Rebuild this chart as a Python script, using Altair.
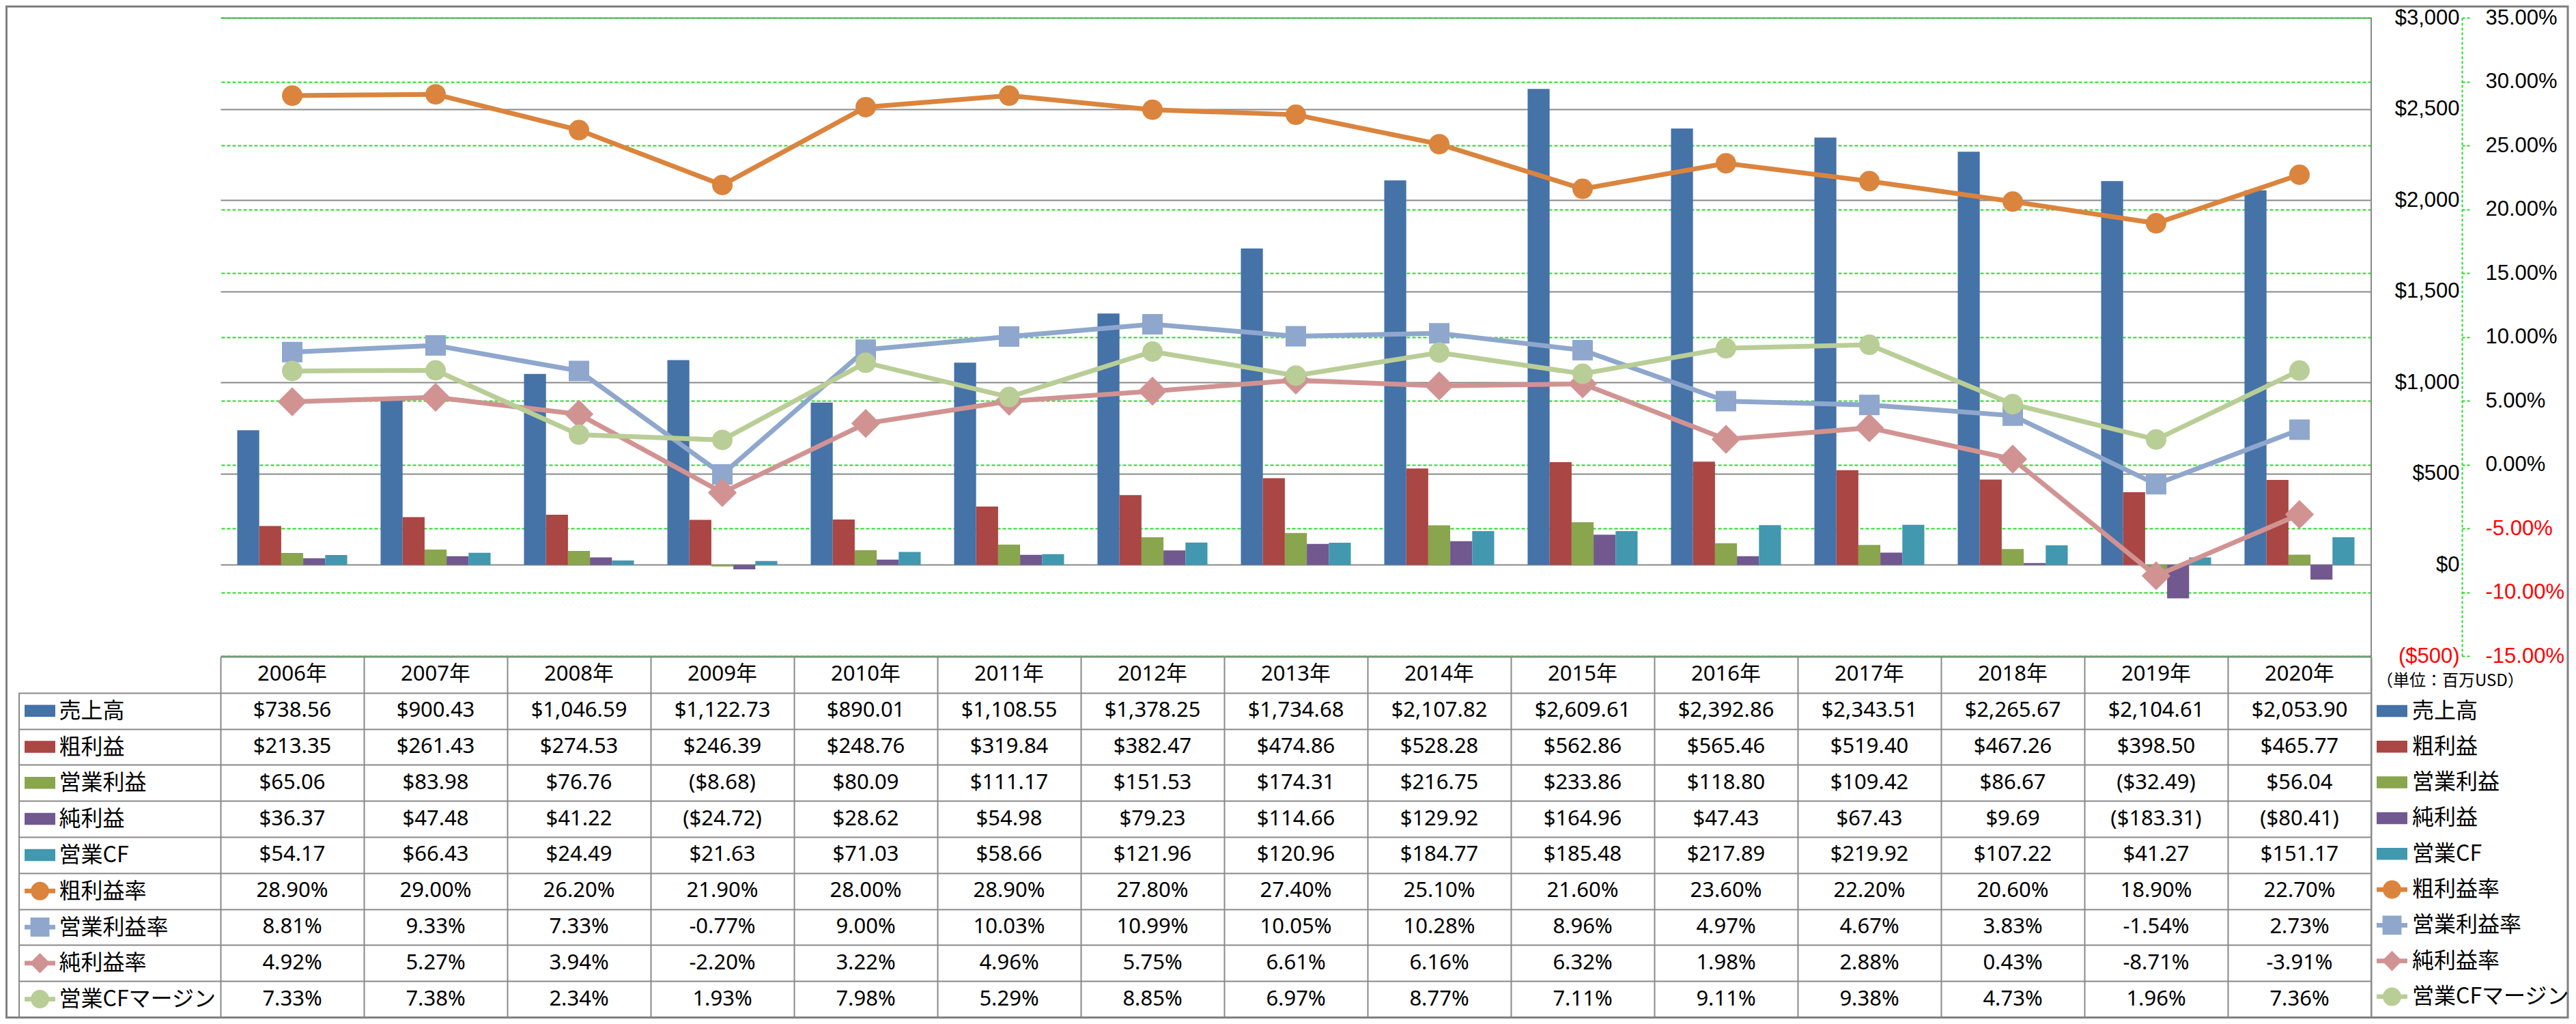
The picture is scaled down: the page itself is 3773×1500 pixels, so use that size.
import altair as alt
import pandas as pd

# ---------------- data ----------------
years = ["2006年", "2007年", "2008年", "2009年", "2010年", "2011年", "2012年", "2013年",
         "2014年", "2015年", "2016年", "2017年", "2018年", "2019年", "2020年"]

bar_series = ["売上高", "粗利益", "営業利益", "純利益", "営業CF"]
line_series = ["粗利益率", "営業利益率", "純利益率", "営業CFマージン"]

sales = [738.56, 900.43, 1046.59, 1122.73, 890.01, 1108.55, 1378.25, 1734.68,
         2107.82, 2609.61, 2392.86, 2343.51, 2265.67, 2104.61, 2053.90]
gross = [213.35, 261.43, 274.53, 246.39, 248.76, 319.84, 382.47, 474.86,
         528.28, 562.86, 565.46, 519.40, 467.26, 398.50, 465.77]
op_inc = [65.06, 83.98, 76.76, -8.68, 80.09, 111.17, 151.53, 174.31,
          216.75, 233.86, 118.80, 109.42, 86.67, -32.49, 56.04]
net_inc = [36.37, 47.48, 41.22, -24.72, 28.62, 54.98, 79.23, 114.66,
           129.92, 164.96, 47.43, 67.43, 9.69, -183.31, -80.41]
op_cf = [54.17, 66.43, 24.49, 21.63, 71.03, 58.66, 121.96, 120.96,
         184.77, 185.48, 217.89, 219.92, 107.22, 41.27, 151.17]

gross_margin = [28.90, 29.00, 26.20, 21.90, 28.00, 28.90, 27.80, 27.40,
                25.10, 21.60, 23.60, 22.20, 20.60, 18.90, 22.70]
op_margin = [8.81, 9.33, 7.33, -0.77, 9.00, 10.03, 10.99, 10.05,
             10.28, 8.96, 4.97, 4.67, 3.83, -1.54, 2.73]
net_margin = [4.92, 5.27, 3.94, -2.20, 3.22, 4.96, 5.75, 6.61,
              6.16, 6.32, 1.98, 2.88, 0.43, -8.71, -3.91]
cf_margin = [7.33, 7.38, 2.34, 1.93, 7.98, 5.29, 8.85, 6.97,
             8.77, 7.11, 9.11, 9.38, 4.73, 1.96, 7.36]

bar_values = [sales, gross, op_inc, net_inc, op_cf]
line_values = [gross_margin, op_margin, net_margin, cf_margin]

usd_ticks = [-500, 0, 500, 1000, 1500, 2000, 2500, 3000]
pct_ticks = [-0.15, -0.10, -0.05, 0.0, 0.05, 0.10, 0.15, 0.20, 0.25, 0.30, 0.35]
unit_label = "（単位：百万USD）"

# ---------------- styles ----------------
bar_colors = ["#4572A7", "#AA4643", "#89A54E", "#71588F", "#4198AF"]
line_colors = ["#DB843D", "#8FA7CD", "#D19392", "#B9CD96"]
line_shapes = ["circle", "square", "diamond", "circle"]
line_sizes = [900, 900, 1800, 900]

bar_sym = "M-1,-0.39L1,-0.39L1,0.39L-1,0.39Z"
stem = "M-1,-0.15L1,-0.15L1,0.15L-1,0.15Z"
circ = "M0.6,0A0.6,0.6,0,1,1,-0.6,0A0.6,0.6,0,1,1,0.6,0Z"
sq = "M-0.62,-0.62L0.62,-0.62L0.62,0.62L-0.62,0.62Z"
dia = "M0,-0.66L0.66,0L0,0.66L-0.66,0Z"
sym_paths = [bar_sym] * 5 + [stem + circ, stem + sq, stem + dia, stem + circ]

GRID = "#898989"
GREEN = "#22DD22"
LATIN = "Noto Sans, Noto Sans CJK JP"
AXISFONT = "Liberation Sans"
CJK = "Noto Sans CJK JP"

W = 3150
TOP = 18           # plot top inside the chart
PLOT_H = 1464
MAIN_H = 935
TABLE_TOP = 936

header_key = "年度"
rows = [header_key] + bar_series + line_series
all_series = bar_series + line_series
ROW_H = (PLOT_H - TABLE_TOP) / 10.0


def fmt_usd(v):
    s = "$" + format(abs(v), ",.2f")
    return "(" + s + ")" if v < 0 else s


bars_df = pd.DataFrame([
    {"year": y, "series": s, "value": v}
    for s, vals in zip(bar_series, bar_values) for y, v in zip(years, vals)
])
lines_df = pd.DataFrame([
    {"year": y, "series": s, "value": v / 100.0}
    for s, vals in zip(line_series, line_values) for y, v in zip(years, vals)
])
table_records = [{"year": y, "row": header_key, "text": y} for y in years]
for s, vals in zip(bar_series, bar_values):
    table_records += [{"year": y, "row": s, "text": fmt_usd(v)} for y, v in zip(years, vals)]
for s, vals in zip(line_series, line_values):
    table_records += [{"year": y, "row": s, "text": f"{v:.2f}%"} for y, v in zip(years, vals)]
table_df = pd.DataFrame(table_records)
sym_df = pd.DataFrame({"row": all_series})
dummy = pd.DataFrame({"a": [0]})

# ---------------- scales / axes ----------------
x_scale = alt.Scale(type="band", domain=years, paddingInner=0, paddingOuter=0)
x_axis = alt.Axis(orient="bottom", offset=-(PLOT_H - TABLE_TOP), labels=False, title=None,
                  domain=True, domainColor=GRID, domainWidth=2,
                  ticks=True, tickSize=PLOT_H - TABLE_TOP, tickColor=GRID, tickWidth=2,
                  tickBand="extent", grid=False)

usd_scale = alt.Scale(domain=[-500, 3000], range=[MAIN_H, 0], nice=False, zero=False)
usd_axis = alt.Axis(orient="left", offset=-(3606 - 323), values=usd_ticks, title=None,
                    domain=False, ticks=False, tickSize=0, labelPadding=4,
                    labelExpr="datum.value < 0 ? '($' + format(-datum.value, ',') + ')' : '$' + format(datum.value, ',')",
                    labelColor={"condition": {"test": "datum.value < 0", "value": "#FF0000"}, "value": "black"},
                    labelFont=AXISFONT, labelFontSize=31,
                    grid=True, gridColor=GRID, gridWidth=2)

pct_scale = alt.Scale(domain=[-0.15, 0.35], range=[MAIN_H, 0], nice=False, zero=False)
pct_axis = alt.Axis(orient="right", offset=3606 - 3473, values=pct_ticks, title=None,
                    domain=True, domainColor=GREEN, domainDash=[4, 3], domainWidth=2,
                    ticks=True, tickSize=11, tickColor=GREEN, tickDash=[4, 3], tickWidth=2,
                    labelPadding=23,
                    labelExpr="(datum.value < -0.0001 ? '-' : '') + format(abs(datum.value), '.2%')",
                    labelColor={"condition": {"test": "datum.value < -0.0001", "value": "#FF0000"}, "value": "black"},
                    labelFont=AXISFONT, labelFontSize=31,
                    grid=True, gridColor=GREEN, gridDash=[5, 3], gridWidth=2)

table_scale = alt.Scale(type="band", domain=rows, range=[TABLE_TOP, PLOT_H],
                        paddingInner=0, paddingOuter=0)
table_axis = alt.Axis(orient="left", values=all_series, title=None, domain=False,
                      ticks=True, tickSize=295, tickColor=GRID, tickWidth=2, tickBand="extent",
                      grid=True, gridColor=GRID, gridWidth=2,
                      labelAlign="left", labelPadding=-58, labelFont=CJK, labelFontSize=32,
                      labelColor="black", labelLimit=400)

legend = alt.Legend(orient="none", legendX=3158, legendY=960, title=unit_label,
                    titleFont=CJK, titleFontSize=24, titleFontWeight="normal", titleColor="black",
                    titlePadding=9, titleLimit=500, labelFont=CJK, labelFontSize=32, labelColor="black",
                    labelOffset=7, labelLimit=400, symbolSize=2025, symbolStrokeWidth=0,
                    symbolOpacity=1, rowPadding=13.3, padding=0, direction="vertical")

# ---------------- layers ----------------
bars = alt.Chart(bars_df).mark_bar().encode(
    x=alt.X("year:N", scale=x_scale, axis=x_axis, sort=years),
    xOffset=alt.XOffset("series:N", sort=bar_series,
                        scale=alt.Scale(domain=bar_series, paddingOuter=0.76, paddingInner=0)),
    y=alt.Y("value:Q", scale=usd_scale, axis=usd_axis),
    color=alt.Color("series:N", scale=alt.Scale(domain=bar_series, range=bar_colors), legend=None),
)

pct_layers = []
for s, c, shp, sz in zip(line_series, line_colors, line_shapes, line_sizes):
    base = alt.Chart(lines_df).transform_filter(alt.datum.series == s)
    enc = dict(x=alt.X("year:N", scale=x_scale, axis=x_axis, sort=years),
               y=alt.Y("value:Q", scale=pct_scale, axis=pct_axis))
    pct_layers.append(base.mark_line(color=c, strokeWidth=7).encode(**enc))
    pct_layers.append(base.mark_point(shape=shp, filled=True, color=c, size=sz,
                                      opacity=1, strokeWidth=0).encode(**enc))
pct_layer = alt.layer(*pct_layers)

table_text = alt.Chart(table_df).mark_text(font=LATIN, fontSize=31, color="black",
                                           align="center", baseline="middle").encode(
    x=alt.X("year:N", scale=x_scale, axis=x_axis, sort=years),
    y=alt.Y("row:N", scale=table_scale, axis=table_axis),
    text="text:N",
)
table_sym = alt.Chart(sym_df).mark_point(filled=True, opacity=1, size=2025, strokeWidth=0).encode(
    x=alt.value(-264.5),
    y=alt.Y("row:N", scale=table_scale, axis=table_axis),
    fill=alt.Fill("row:N", scale=alt.Scale(domain=all_series, range=bar_colors + line_colors),
                  legend=legend),
    shape=alt.Shape("row:N", scale=alt.Scale(domain=all_series, range=sym_paths), legend=legend),
)
table_layer = alt.layer(table_text, table_sym)

right_border = alt.Chart(dummy).mark_rule(color=GRID, strokeWidth=2).encode(
    x=alt.value(W), y=alt.value(0), y2=alt.value(PLOT_H))
label_border = alt.Chart(dummy).mark_rule(color=GRID, strokeWidth=2).encode(
    x=alt.value(-295), y=alt.value(TABLE_TOP + ROW_H), y2=alt.value(PLOT_H))
outer_border = alt.Chart(dummy).mark_rect(fillOpacity=0, stroke="#808080", strokeWidth=3).encode(
    x=alt.value(-313.5), x2=alt.value(3438), y=alt.value(-TOP + 1.5), y2=alt.value(PLOT_H + 0.5))

chart = alt.layer(
    bars, pct_layer, table_layer, right_border, label_border, outer_border
).resolve_scale(
    y="independent"
).properties(
    width=W, height=PLOT_H, padding=0, background="white"
).configure_view(stroke=None)

chart.save("out.html", embed_options={"renderer": "svg", "actions": False})
